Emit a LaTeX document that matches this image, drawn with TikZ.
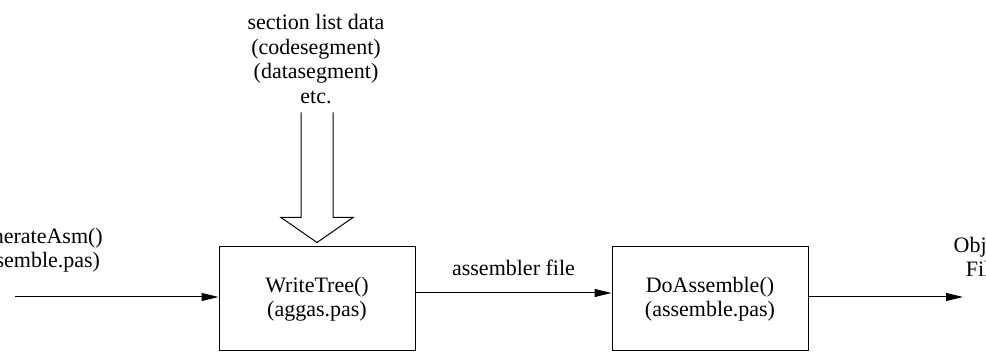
\documentclass[tikz,border=0pt]{standalone}
\usepackage{fontspec}
\setmainfont{Liberation Serif}
\usetikzlibrary{arrows.meta,calc}

\begin{document}
\begin{tikzpicture}[x=1pt, y=-1pt,
    txt/.style={font=\fontsize{22}{24.5}\selectfont, align=center},
    proc/.style={rectangle, draw, line width=1pt, minimum width=196pt, minimum height=104pt, inner sep=0pt, txt},
    arrow/.style={-{Triangle[length=17pt,width=8pt]}, line width=1pt},
    hollow/.style={line width=1pt, line join=miter}
]
\useasboundingbox (0,0) rectangle (986,352);
\clip (0,0) rectangle (986,352);

\node[proc] (wt) at (317,299) {WriteTree()\\(aggas.pas)};
\node[proc] (da) at (710,299) {DoAssemble()\\(assemble.pas)};
\node[txt] (gen) at (35,250) {GenerateAsm()\\(assemble.pas)};
\node[txt] (obj) at (983,257) {Object\\File};
\node[txt] (sect) at (316,59) {section list data\\(codesegment)\\(datasegment)\\etc.};
\coordinate (in) at (15,297);
\coordinate (out) at (963,297);

\draw[arrow] (in) -- (in -| wt.west);
\draw[arrow] ([yshift=6pt]wt.east) -- node[txt, above=17pt, inner sep=0pt] {assembler file} ([yshift=6pt]da.west);
\draw[arrow] (da.east |- out) -- (out);
\draw[hollow] ($(wt.north)+(-16,-134)$) -- ++(0,105) -- ++(-20,0) -- ($(wt.north)+(0,-4)$) -- ++(36,-25) -- ++(-20,0) -- ++(0,-105);

\end{tikzpicture}
\end{document}
